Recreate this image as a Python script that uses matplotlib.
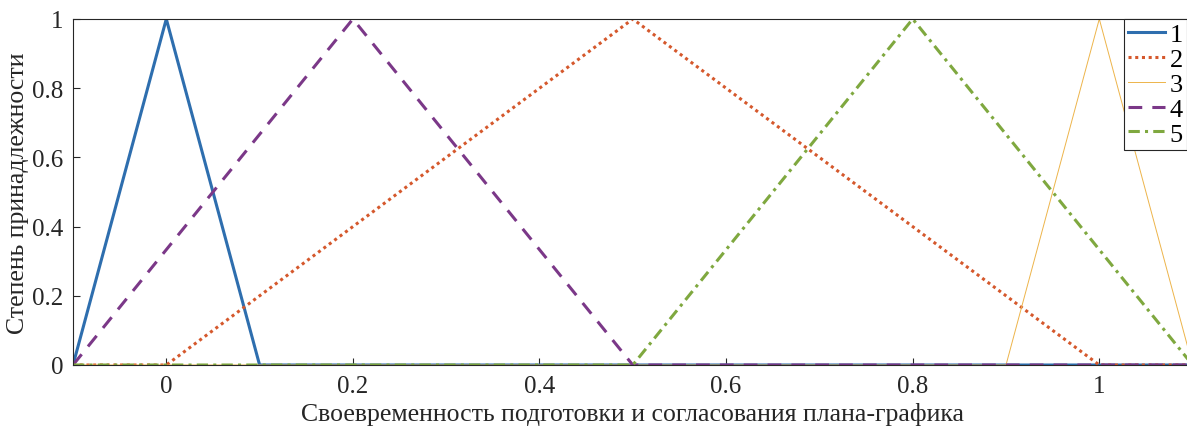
import matplotlib
matplotlib.use("Agg")
import matplotlib.pyplot as plt

plt.rcParams['font.family'] = ['Liberation Serif', 'DejaVu Serif']

# term vertices (x, membership)
x1 = [-0.1, 0.0, 0.1, 1.1]
y1 = [0, 1, 0, 0]
x2 = [-0.1, 0.0, 0.5, 1.0, 1.1]
y2 = [0, 0, 1, 0, 0]
x3 = [-0.1, 0.9, 1.0, 1.1]
y3 = [0, 0, 1, 0]
x4 = [-0.1, 0.2, 0.5, 1.1]
y4 = [0, 1, 0, 0]
x5 = [-0.1, 0.5, 0.8, 1.1]
y5 = [0, 0, 1, 0]

labels = ['1', '2', '3', '4', '5']
xticks = [0, 0.2, 0.4, 0.6, 0.8, 1]
yticks = [0, 0.2, 0.4, 0.6, 0.8, 1]
ticklabels = ['0', '0.2', '0.4', '0.6', '0.8', '1']

fig = plt.figure(figsize=(11.87, 4.31), dpi=100)
W, H = 1187, 431
left, right, top, bottom = 73, 73 + 1.2 * 933, 20, 366
ax = fig.add_axes([left / W, 1 - bottom / H, (right - left) / W, (bottom - top) / H])

lw = 2.2
ax.plot(x1, y1, color='#2E6EAE', lw=lw, ls='-', label=labels[0])
ax.plot(x2, y2, color='#D5582C', lw=lw, ls=(0, (1, 1.2)), label=labels[1])
ax.plot(x3, y3, color='#EDB44A', lw=0.7, ls='-', label=labels[2])
ax.plot(x4, y4, color='#7B3888', lw=lw, ls=(0, (4.5, 3.3)), label=labels[3])
ax.plot(x5, y5, color='#7FA83F', lw=lw, ls=(0, (3.7, 1.7, 1, 1.7)), label=labels[4])

ax.set_xlim(-0.1, 1.1)
ax.set_ylim(0, 1)
ax.set_xticks(xticks)
ax.set_xticklabels(ticklabels, fontfamily='Liberation Serif')
ax.set_yticks(yticks)
ax.set_yticklabels(ticklabels, fontfamily='Liberation Serif')
ax.tick_params(direction='in', length=5, width=0.8, labelsize=18, colors='#262626', pad=7)
for s in ax.spines.values():
    s.set_color('#262626')
    s.set_linewidth(0.8)

ax.set_xlabel('Своевременность подготовки и согласования плана-графика', fontsize=18.5, color='#262626', labelpad=4)
ax.set_ylabel('Степень принадлежности', fontsize=18.5, color='#262626', labelpad=2)

leg = fig.legend(loc='upper right', bbox_to_anchor=(1.0, 1 - top / H), fontsize=19,
                 frameon=True, fancybox=False, framealpha=1, edgecolor='#262626',
                 handlelength=1.4, handletextpad=0.2, borderpad=0.15, labelspacing=0.05,
                 borderaxespad=0)
leg.get_frame().set_linewidth(0.8)

fig.savefig('out.png', dpi=100)
